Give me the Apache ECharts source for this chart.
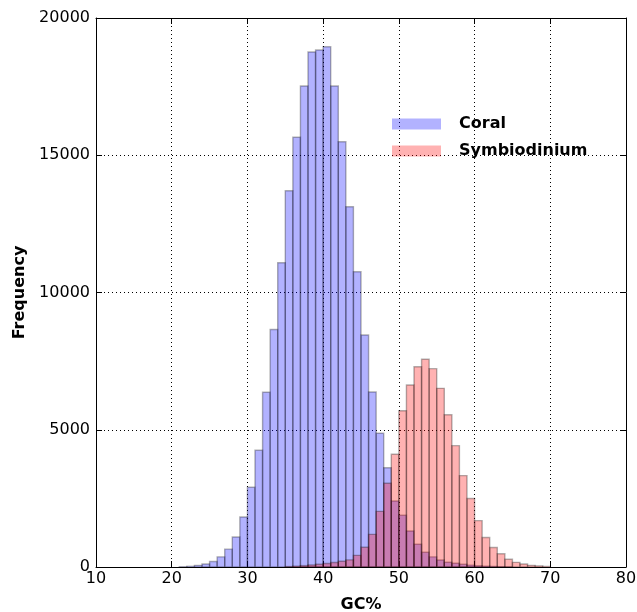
<!DOCTYPE html>
<html lang="en">
<head>
    <meta charset="UTF-8">
    <title>GC% histogram</title>
    <script src="https://cdn.jsdelivr.net/npm/echarts@6/dist/echarts.min.js"></script>
    <style>
        html, body {margin: 0; padding: 0; background: #fff;}
        #main {width: 637px; height: 612px;}
    </style>
</head>
<body>
<div id="main"></div>
<script>
    // histogram bins, each one GC% wide, starting at binStart
    const binWidth = 1;
    const coralStart = 21;
    const coral = [10, 25, 60, 110, 200, 370, 650, 1093, 1821, 2904,
        4251, 6364, 8650, 11086, 13709, 15654, 17523, 18760, 18834, 18955,
        17523, 15494, 13126, 10758, 8450, 6375, 4870, 3618, 2404, 1883,
        1311, 830, 535, 370, 255, 175, 135, 100, 70, 45,
        30, 20, 12, 6];
    const symbStart = 35;
    const symb = [15, 30, 50, 75, 100, 130, 165, 210, 260, 425,
        717, 1190, 2028, 3050, 4105, 5694, 6630, 7297, 7566, 7225,
        6509, 5549, 4420, 3330, 2495, 1688, 1075, 710, 480, 280,
        170, 110, 60, 40, 20];
    const xTicks = [10, 20, 30, 40, 50, 60, 70, 80];
    const yTicks = [0, 5000, 10000, 15000, 20000];

    function toPairs(start, values) {
        return values.map((v, i) => [start + i * binWidth, v]);
    }

    function renderBin(params, api) {
        let x0 = api.value(0);
        let p0 = api.coord([x0, 0]);
        let p1 = api.coord([x0 + binWidth, api.value(1)]);
        return {
            type: 'rect',
            shape: {x: p0[0], y: p1[1], width: p1[0] - p0[0], height: p0[1] - p1[1]},
            style: api.style()
        };
    }

    const font = 'DejaVu Sans';
    const tickLabel = {color: '#000', fontSize: 16, fontFamily: font, formatter: v => String(v)};
    const frame = {show: true, onZero: false, lineStyle: {color: '#000', width: 1}};
    const tickIn = {show: true, inside: true, length: 6, lineStyle: {color: '#000'}};
    const dotted = {show: true, lineStyle: {color: '#000', type: [1, 3], width: 1}};

    let chart = echarts.init(document.getElementById('main'), null, {renderer: 'canvas'});
    chart.setOption({
        animation: false,
        backgroundColor: '#fff',
        grid: {left: 96, right: 11, top: 18, bottom: 45, outerBoundsMode: 'none', containLabel: false},
        legend: {
            orient: 'vertical',
            left: 392,
            top: 116,
            padding: 0,
            itemWidth: 49,
            itemHeight: 11,
            itemGap: 11,
            icon: 'rect',
            itemStyle: {borderWidth: 0},
            textStyle: {color: '#000', fontSize: 16, fontWeight: 'bold', fontFamily: font, padding: [0, 0, 0, 13]},
            data: ['Coral', 'Symbiodinium']
        },
        xAxis: [{
            type: 'value', min: 10, max: 80, interval: 10,
            name: 'GC%', nameLocation: 'middle', nameGap: 30,
            nameTextStyle: {color: '#000', fontSize: 16, fontWeight: 'bold', fontFamily: font},
            axisLine: frame,
            axisTick: tickIn,
            axisLabel: Object.assign({margin: 4}, tickLabel),
            splitLine: dotted
        }, {
            type: 'value', min: 10, max: 80, interval: 10, position: 'top',
            axisLine: frame,
            axisTick: tickIn,
            axisLabel: {show: false},
            splitLine: {show: false}
        }],
        yAxis: [{
            type: 'value', min: 0, max: 20000, interval: 5000,
            name: 'Frequency', nameLocation: 'middle', nameGap: 59,
            nameTextStyle: {color: '#000', fontSize: 16, fontWeight: 'bold', fontFamily: font},
            axisLine: frame,
            axisTick: tickIn,
            axisLabel: Object.assign({margin: 6}, tickLabel),
            splitLine: dotted
        }, {
            type: 'value', min: 0, max: 20000, interval: 5000, position: 'right',
            axisLine: frame,
            axisTick: tickIn,
            axisLabel: {show: false},
            splitLine: {show: false}
        }],
        series: [{
            name: 'Coral',
            type: 'custom',
            renderItem: renderBin,
            itemStyle: {color: 'rgba(0,0,255,0.3)', borderColor: 'rgba(0,0,0,0.3)', borderWidth: 1.4},
            encode: {x: 0, y: 1},
            data: toPairs(coralStart, coral)
        }, {
            name: 'Symbiodinium',
            type: 'custom',
            renderItem: renderBin,
            itemStyle: {color: 'rgba(255,0,0,0.3)', borderColor: 'rgba(0,0,0,0.3)', borderWidth: 1.4},
            encode: {x: 0, y: 1},
            data: toPairs(symbStart, symb)
        }]
    });
</script>
</body>
</html>
